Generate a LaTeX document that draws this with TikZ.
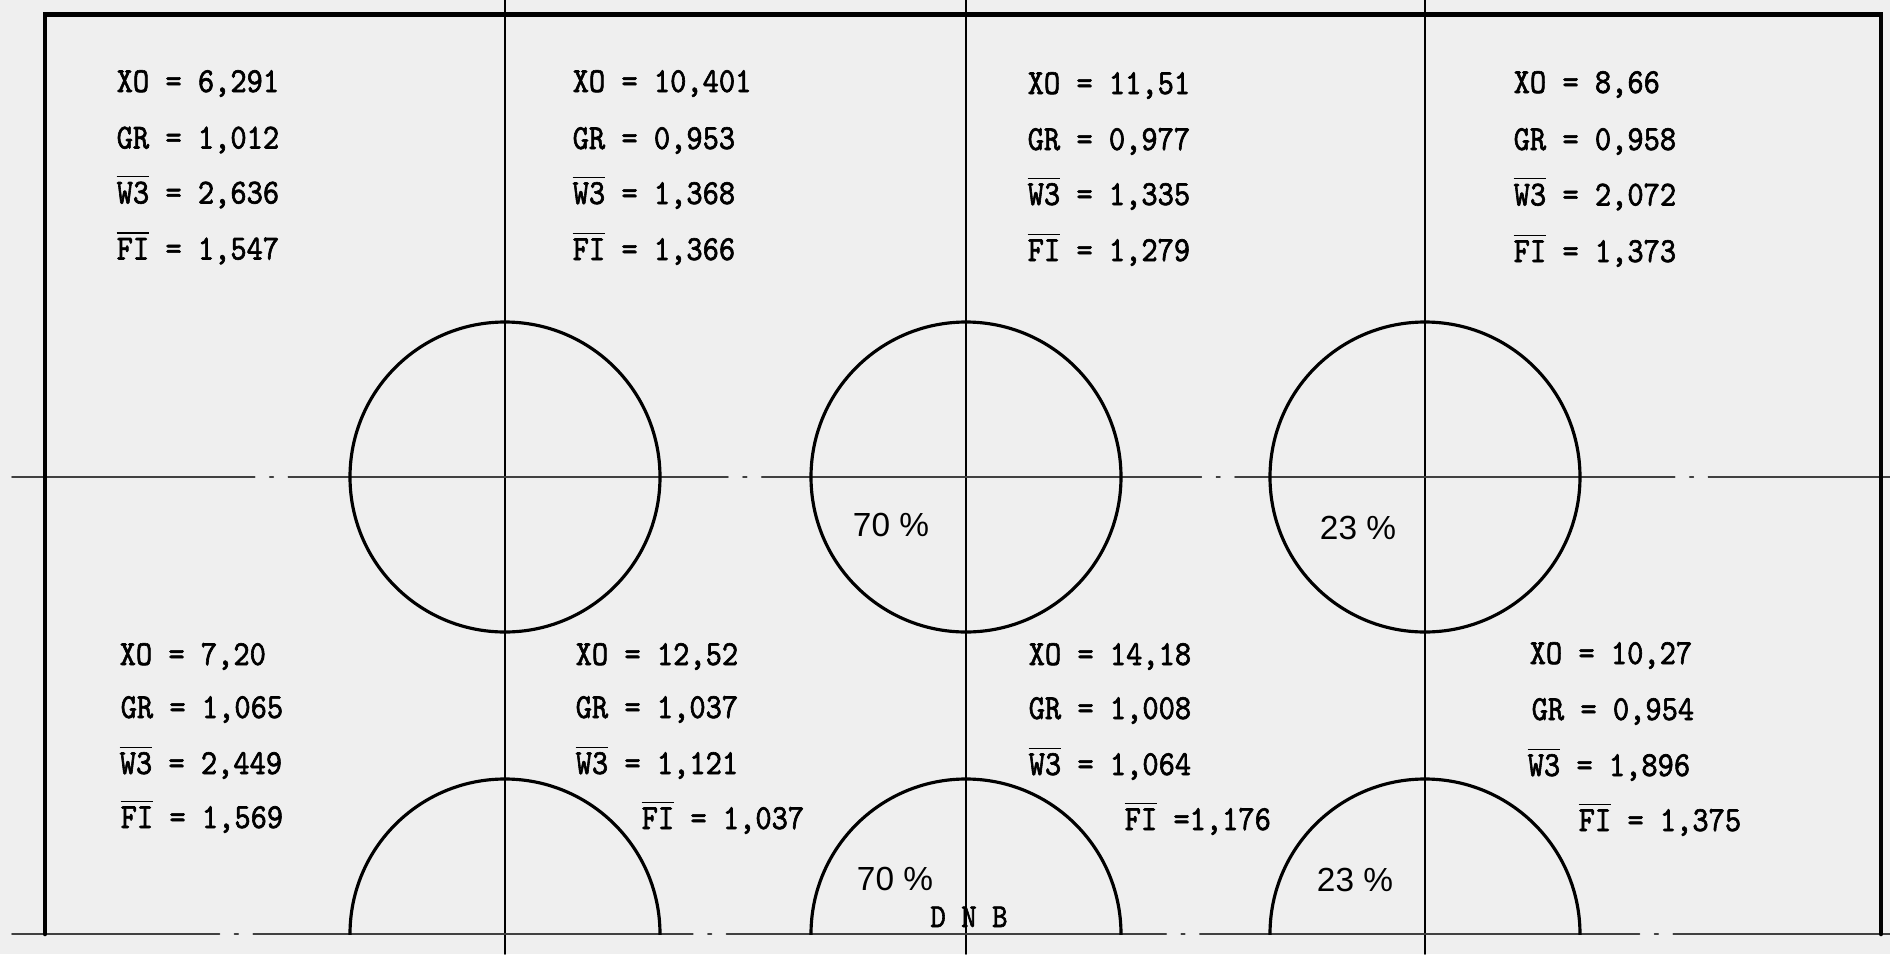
\documentclass[tikz,border=0pt]{standalone}
\usepackage{fontspec}
\setsansfont{Liberation Sans}
\newfontfamily\typew[FakeStretch=0.88,FakeBold=1.8]{lmmono10-regular.otf}
\usetikzlibrary{positioning}
\definecolor{paper}{RGB}{239,239,239}
\newcommand{\ovl}[1]{$\overline{\mbox{#1}}$}

\tikzset{
  frame/.style={line width=1.3pt},
  axisline/.style={line width=0.45pt},
  centreline/.style={line width=0.5pt, black!75, dash pattern=on 125pt off 4.3pt on 1pt off 4.3pt},
  bore/.style={line width=0.9pt},
  val/.style={anchor=base west, inner sep=0pt, font=\typew\fontsize{10}{12}\selectfont},
  pct/.style={inner sep=0pt, font=\sffamily\fontsize{9.5}{11}\selectfont},
}

\begin{document}
\begin{tikzpicture}[x=0.01cm,y=-0.01cm,line cap=round]
  % --- Fondo e area ---
  \fill[paper] (0,0) rectangle (1890,954);
  \useasboundingbox (0,0) rectangle (1890,954);

  % --- Centri dei fori ---
  \coordinate (c1) at (505,477);
  \coordinate (c2) at (966,477);
  \coordinate (c3) at (1425,477);
  \coordinate (d1) at (505,934);
  \coordinate (d2) at (966,934);
  \coordinate (d3) at (1425,934);

  % --- Assi ---
  \draw[axisline] (505,0) -- (505,954);
  \draw[axisline] (966,0) -- (966,954);
  \draw[axisline] (1425,0) -- (1425,954);
  \draw[centreline, dash phase=56pt] (12,477) -- (1890,477);
  \draw[centreline, dash phase=66pt] (12,934) -- (1890,934);

  % --- Cornice ---
  \draw[frame] (45,934) -- (45,14.5) -- (1881,14.5) -- (1881,934);

  % --- Fori ---
  \draw[bore] (c1) circle[radius=155];
  \draw[bore] (c2) circle[radius=155];
  \draw[bore] (c3) circle[radius=155];
  \begin{scope}
    \clip (0,0) rectangle (1890,934);
    \draw[bore] (d1) circle[radius=155];
    \draw[bore] (d2) circle[radius=155];
    \draw[bore] (d3) circle[radius=155];
  \end{scope}

  % --- Percentuali ---
  \node[pct] (p1) at (891,525) {70 \%};
  \node[pct] (p2) at (1358,528) {23 \%};
  \node[pct] (p3) at (895,879) {70 \%};
  \node[pct] (p4) at (1355,880) {23 \%};

  % --- Valori, riga superiore ---
  \node[val] (xoa) at (116,92) {XO = 6,291};
  \node[val] (gra) at (116,148.5) {GR = 1,012};
  \node[val] (wa) at (116,203.5) {\ovl{W3} = 2,636};
  \node[val] (fa) at (116,259.5) {\ovl{FI} = 1,547};

  \node[val] (xob) at (572,92) {XO = 10,401};
  \node[val] (grb) at (572,149) {GR = 0,953};
  \node[val] (wb) at (572,204) {\ovl{W3} = 1,368};
  \node[val] (fb) at (572,260) {\ovl{FI} = 1,366};

  \node[val] (xoc) at (1027,94) {XO = 11,51};
  \node[val] (grc) at (1027,150) {GR = 0,977};
  \node[val] (wc) at (1027,205) {\ovl{W3} = 1,335};
  \node[val] (fc) at (1027,261) {\ovl{FI} = 1,279};

  \node[val] (xod) at (1513,93) {XO = 8,66};
  \node[val] (grd) at (1513,150) {GR = 0,958};
  \node[val] (wd) at (1513,205.5) {\ovl{W3} = 2,072};
  \node[val] (fd) at (1513,262) {\ovl{FI} = 1,373};

  % --- Valori, riga inferiore ---
  \node[val] (xoe) at (119,665) {XO = 7,20};
  \node[val] (gre) at (120,718) {GR = 1,065};
  \node[val] (we) at (119,774) {\ovl{W3} = 2,449};
  \node[val] (fe) at (120,828) {\ovl{FI} = 1,569};

  \node[val] (xof) at (575,665) {XO = 12,52};
  \node[val] (grf) at (575,718) {GR = 1,037};
  \node[val] (wf) at (575,774) {\ovl{W3} = 1,121};
  \node[val] (ff) at (641,829) {\ovl{FI} = 1,037};

  \node[val] (xog) at (1028,665) {XO = 14,18};
  \node[val] (grg) at (1028,719) {GR = 1,008};
  \node[val] (wg) at (1028,775) {\ovl{W3} = 1,064};
  \node[val] (fg) at (1124,830) {\ovl{FI} =1,176};

  \node[val] (xoh) at (1529,664) {XO = 10,27};
  \node[val] (grh) at (1531,720) {GR = 0,954};
  \node[val] (wh) at (1527,776) {\ovl{W3} = 1,896};
  \node[val] (fh) at (1578,831) {\ovl{FI} = 1,375};

  % --- Sigla ---
  \node[val, anchor=base, font=\typew\fontsize{9.5}{11}\selectfont] (dnb) at (969,927) {D N B};
\end{tikzpicture}
\end{document}
